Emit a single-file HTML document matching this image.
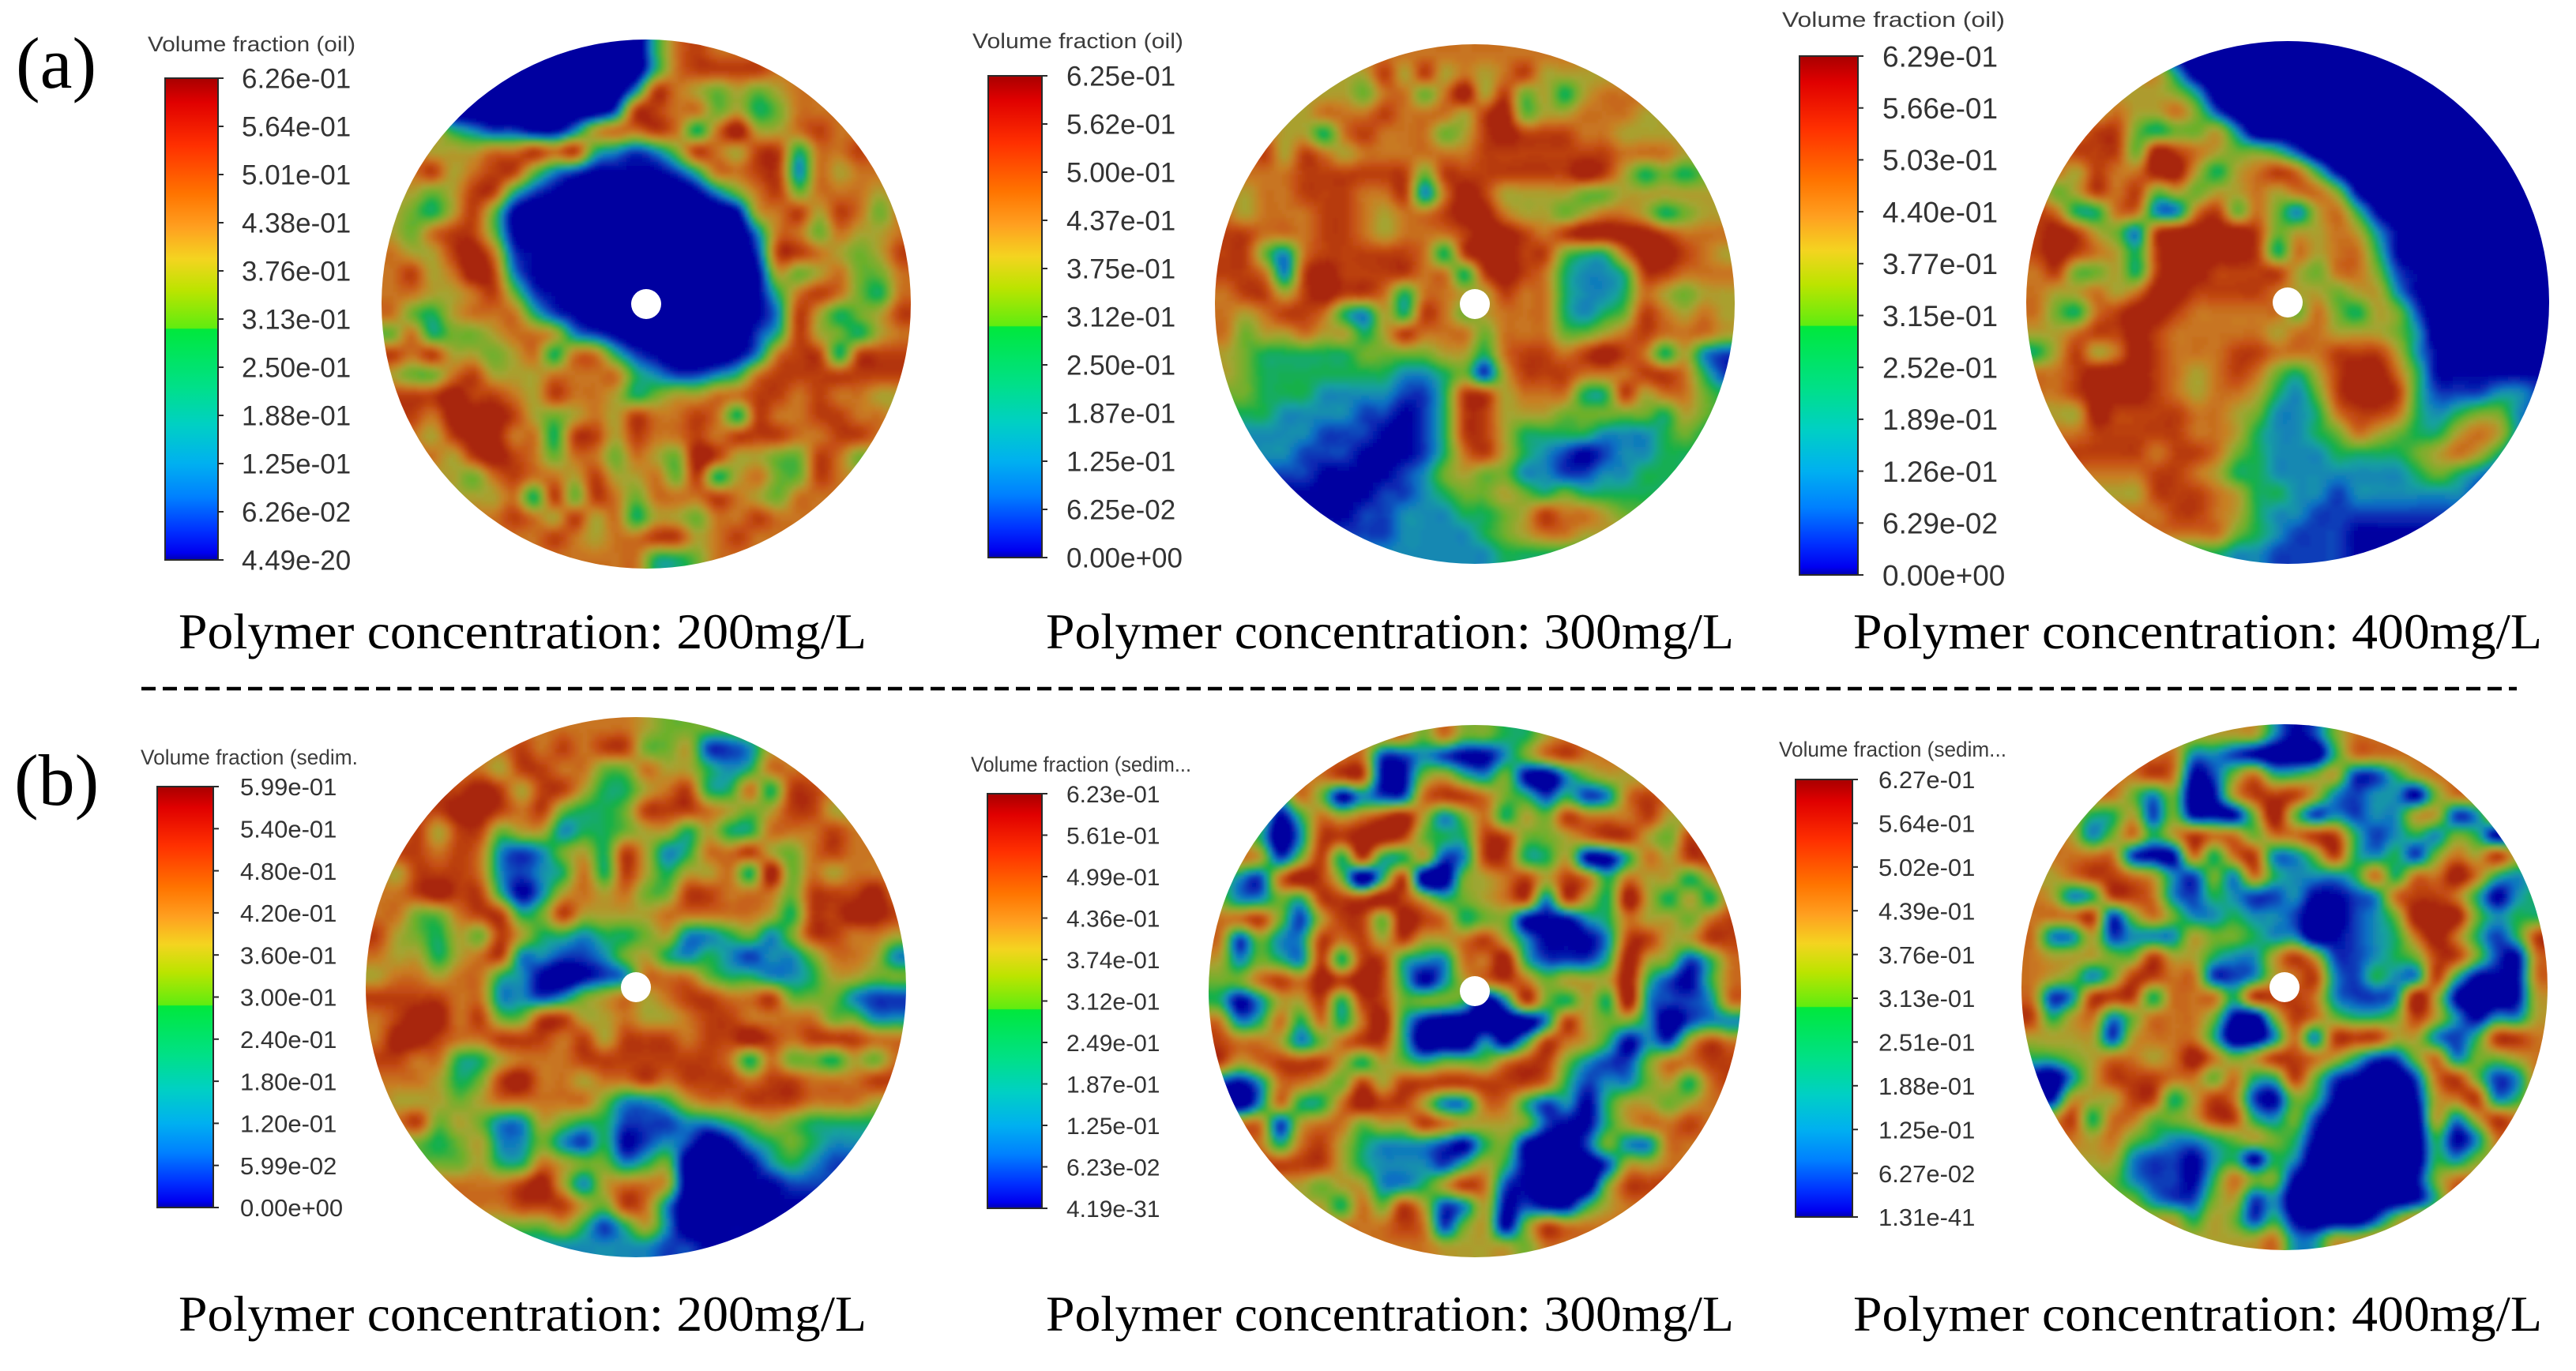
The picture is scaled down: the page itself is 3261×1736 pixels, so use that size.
<!DOCTYPE html>
<html lang="en">
<head>
<meta charset="utf-8">
<title>Volume fraction contours</title>
<style>
html,body{margin:0;padding:0;background:#fff;width:3261px;height:1736px;overflow:hidden}
svg{display:block}
.cap{font-family:"Liberation Serif",serif;font-size:64px;fill:#000}
.tag{font-family:"Liberation Serif",serif;font-size:92px;fill:#000}
.ttl{font-family:"Liberation Sans",sans-serif;font-size:27px;fill:#3c3c3c}
.tick{font-family:"Liberation Sans",sans-serif;fill:#333}
</style>
</head>
<body>
<svg id="figure" xmlns="http://www.w3.org/2000/svg" width="3261" height="1736" viewBox="0 0 3261 1736">
<defs>
<linearGradient id="barGrad" x1="0" y1="0" x2="0" y2="1">
<stop offset="0" stop-color="#a80000"/><stop offset=".05" stop-color="#e00000"/><stop offset=".14" stop-color="#ff3000"/>
<stop offset=".24" stop-color="#ff7400"/><stop offset=".31" stop-color="#ffa020"/><stop offset=".375" stop-color="#f4d420"/>
<stop offset=".44" stop-color="#bce400"/><stop offset=".519" stop-color="#60ec10"/><stop offset=".521" stop-color="#00e83c"/>
<stop offset=".64" stop-color="#00e088"/><stop offset=".72" stop-color="#00d0c4"/><stop offset=".8" stop-color="#00b0f0"/>
<stop offset=".87" stop-color="#0080ff"/><stop offset=".94" stop-color="#0030ff"/><stop offset=".985" stop-color="#0000f0"/><stop offset="1" stop-color="#0000b0"/>
</linearGradient>
<filter id="soft" x="-5%" y="-5%" width="110%" height="110%"><feGaussianBlur stdDeviation="2"/></filter>
</defs>

<text class="tag" x="20" y="111">(a)</text>
<text class="tag" x="18" y="1019">(b)</text>

<text class="ttl" x="187" y="65" textLength="263" lengthAdjust="spacingAndGlyphs">Volume fraction (oil)</text>
<text class="ttl" x="1231" y="61" textLength="267" lengthAdjust="spacingAndGlyphs">Volume fraction (oil)</text>
<text class="ttl" x="2256" y="34" textLength="282" lengthAdjust="spacingAndGlyphs">Volume fraction (oil)</text>
<text class="ttl" x="178" y="968" textLength="275" lengthAdjust="spacingAndGlyphs">Volume fraction (sedim.</text>
<text class="ttl" x="1229" y="977" textLength="279" lengthAdjust="spacingAndGlyphs">Volume fraction (sedim...</text>
<text class="ttl" x="2252" y="958" textLength="288" lengthAdjust="spacingAndGlyphs">Volume fraction (sedim...</text>

<text class="cap" x="226" y="821" textLength="871" lengthAdjust="spacingAndGlyphs">Polymer concentration: 200mg/L</text>
<text class="cap" x="1324" y="821" textLength="871" lengthAdjust="spacingAndGlyphs">Polymer concentration: 300mg/L</text>
<text class="cap" x="2346" y="821" textLength="872" lengthAdjust="spacingAndGlyphs">Polymer concentration: 400mg/L</text>
<text class="cap" x="226" y="1685" textLength="871" lengthAdjust="spacingAndGlyphs">Polymer concentration: 200mg/L</text>
<text class="cap" x="1324" y="1685" textLength="871" lengthAdjust="spacingAndGlyphs">Polymer concentration: 300mg/L</text>
<text class="cap" x="2346" y="1685" textLength="872" lengthAdjust="spacingAndGlyphs">Polymer concentration: 400mg/L</text>

<line x1="179" y1="872" x2="3186" y2="872" stroke="#000" stroke-width="4.5" stroke-dasharray="18 9"/>
</svg>

<script>
// Field values: each digit is a contour level,
// 0 = lowest volume fraction (deep blue) ... 9 = highest (dark red).
const oil200Rows = [
"00000000000004787777777777","00000000000004788887777777","00000000000038765656777777","00000000000288775645777777",
"66643221136778747966787777","77666778784323587688477877","77867885321111247788376777","66568842100000013578577767",
"65468510000000000167868757","65788510000000000037757667","76689721000000000028876568","78679831000000000016567557",
"77667852100000000014787547","75467774210000000013864568","57455677632100000024865467","87866567477421000137884888",
"65578666777743223478888888","88898876877645667788787766","88799986567687787487788776","77689977488687787888778877",
"77768987577576598665587566","66665787768667584675587666","66666674858757778765777777","77777787686746657787777777",
"77777777876778867877777777","77777777777774457777777777"];
const oil300Rows = [
"77777777777777777777777777","66666666868676786666666666","66666665775796856467776666","66666777877768956677766666",
"66766478777568988877666666","77868767777778888888777666","77778888885888888898645456","76778887783798666655666666",
"76777887677899766567764566","88777887677789987899998777","88537888887489988544799876","88738988887748987433488777",
"78868988747766877433476566","76788743648756777434587676","75667664687775777556787776","65444445555664788789874632",
"65444444433452688877788742","55444333322488677744867754","44433332212488666555554654","33333222112488644443334543",
"33332221112478643212334444","22222111123565533223344444","11111111223455654544444444","11111112233344568776555555",
"22222222233334567766666666","33333333333333444444555555"];
const oil400Rows = [
"00000000000000000000000000","66666663000000000000000000","66666665300000000000000000","66667667520000000000000000",
"77788545563000000000000000","77888598765542000000000000","77687799646787410000000000","75687856566767751000000000",
"87447733785753674100000000","89865389999856676310000000","89876489999847677410000000","78556489988886577521000000",
"76676799888876656631000000","75478998777775754652000000","66788987777767766653000000","46867987778877788863100000",
"77899987678754689974111111","77899987677643589984222332",
"66698888776533478874345532","77788888776433457654467632","88888878875433344445676422","77777788764433333334543222",
"66666688876443323333332222","77777778876433222222222222","77777777775432221111111111","44444444443322221111111111"];
const sed200Rows = [
"77777777777776555566666666","77777778787885562236666666","77777768877557664347777777","88888986886446784474887777",
"88889987854458887656886677","77868856634456646447778777","88878732356486347786578777","76888732347486466749576777",
"77898841367675588777588897","77557884586666777776488998","86546586443445633453588776","76646783322356434323357763",
"67767743101237775443346655","88887733235676788778555322","78997855886676678877775533","79987788878688878898788877",
"88774467778888888747554657","77764589776778788878877788","76665677777533467788877766","77856533654422233456544444",
"55545633532412320134543333","55555644765534500013432222","77777778963677600011222222","77777778886587300011111111","55555555564246300111111111","33333333333333221111111111"];
const sed300Rows = [
"77777777775755446777777777","77777777223211357877777777","77777788115643510356666666","66647513227887542423787777",
"66514767896357465877786687","66403889985448855678865877","77625848446238844611476887","53279850480056786874766468",
"53354888986456783864964647","77852688598745511134766578","72533878686678631113886688","63543848843377942224965247",
"55787989841367875666942147","41366848855540385464932237","73474747941000003865530233","87763578840003148764132687",
"86788864654555788532257788","21377658688888887423356478","20374479886337742314665677","77726775668766652114677877",
"77747864333214510025337777","88888864333246410002667777","66666566334687210005888777","66666647586236121146777777","77777777787256158777777777","77777777777666657777777777"];
const sed400Rows = [
"66666666666631257777777777","77777777332100047777777777","77777787125744562246777777","77777535016888632331577777",
"66644625111595232336623777","77635746877577884234354136","77777211747833584342576867","66788763253743334747797434",
"76348873243223112378874134","77782575334332002359995344","73362333655433012347974248","76665586643368622345885217",
"76535887722367832433841117","72388847774888732239610016","84673577751058754458631336","66662677740037388866324887",
"44567767975688764225735567","10368887757448521002785237","21666884687215410001678347","66847755688435200000636877",
"77767543345654100000413777","66666322134143000000435666","55555322147551000001577777","55555532256230000001488777","66666666465241000257777777","66666666666673366777777777"];

const oil200Ticks = ["6.26e-01","5.64e-01","5.01e-01","4.38e-01","3.76e-01","3.13e-01","2.50e-01","1.88e-01","1.25e-01","6.26e-02","4.49e-20"];
const oil300Ticks = ["6.25e-01","5.62e-01","5.00e-01","4.37e-01","3.75e-01","3.12e-01","2.50e-01","1.87e-01","1.25e-01","6.25e-02","0.00e+00"];
const oil400Ticks = ["6.29e-01","5.66e-01","5.03e-01","4.40e-01","3.77e-01","3.15e-01","2.52e-01","1.89e-01","1.26e-01","6.29e-02","0.00e+00"];
const sed200Ticks = ["5.99e-01","5.40e-01","4.80e-01","4.20e-01","3.60e-01","3.00e-01","2.40e-01","1.80e-01","1.20e-01","5.99e-02","0.00e+00"];
const sed300Ticks = ["6.23e-01","5.61e-01","4.99e-01","4.36e-01","3.74e-01","3.12e-01","2.49e-01","1.87e-01","1.25e-01","6.23e-02","4.19e-31"];
const sed400Ticks = ["6.27e-01","5.64e-01","5.02e-01","4.39e-01","3.76e-01","3.13e-01","2.51e-01","1.88e-01","1.25e-01","6.27e-02","1.31e-41"];

const levelColors = ["#0000a0","#0a2cb4","#1070c4","#14a0a0","#12b048","#6cb02c","#a4a430","#c88024","#c65014","#a82608"];

const NS = "http://www.w3.org/2000/svg";
const fig = document.getElementById("figure");

function hexRgb(h){return [parseInt(h.substr(1,2),16),parseInt(h.substr(3,2),16),parseInt(h.substr(5,2),16)];}
const levelRgb = levelColors.map(hexRgb);
function colorAt(v){
  const t = Math.max(0,Math.min(levelRgb.length-1,v));
  const i = Math.min(levelRgb.length-2,Math.floor(t));
  const f = t-i;
  const c = levelRgb[i].map(function(a,k){return Math.round(a+(levelRgb[i+1][k]-a)*f);});
  return "rgb("+c[0]+","+c[1]+","+c[2]+")";
}
function cr(a,b,c,d,t){return b+0.5*t*(c-a+t*(2*a-5*b+4*c-d+t*(3*(b-c)+d-a)));}
function sampleField(rows,u,w){
  const n = rows.length;
  const x = u*n-0.5, y = w*n-0.5;
  const xi = Math.floor(x), yi = Math.floor(y);
  const fx = x-xi, fy = y-yi;
  function at(cx,cy){
    const row = rows[Math.max(0,Math.min(n-1,cy))];
    return +row[Math.max(0,Math.min(row.length-1,cx))];
  }
  const col = [];
  for(let k=-1;k<3;k++){
    col.push(cr(at(xi-1,yi+k),at(xi,yi+k),at(xi+1,yi+k),at(xi+2,yi+k),fx));
  }
  return cr(col[0],col[1],col[2],col[3],fy);
}
// Interpolation flattens narrow peaks; steepen around the green contour to restore them.
function sharpen(v){
  return v<4.5 ? 4.5-(4.5-v)*1.3 : 4.5+(v-4.5)*1.12;
}

let clipCount = 0;
function drawField(rows,cx,cy,r,name){
  clipCount++;
  const clip = document.createElementNS(NS,"clipPath");
  clip.setAttribute("id","disc"+clipCount);
  const cc = document.createElementNS(NS,"circle");
  cc.setAttribute("cx",cx);cc.setAttribute("cy",cy);cc.setAttribute("r",r);
  clip.appendChild(cc);
  fig.querySelector("defs").appendChild(clip);

  const outer = document.createElementNS(NS,"g");
  outer.setAttribute("clip-path","url(#disc"+clipCount+")");
  
  
  const inner = document.createElementNS(NS,"g");
  inner.setAttribute("filter","url(#soft)");
  inner.setAttribute("shape-rendering","crispEdges");

  const cell = 5, d = 2*r, count = Math.ceil(d/cell)+6;
  for(let j=0;j<count;j++){
    const py = cy-r-3*cell+j*cell;
    let runStart = 0, runKey = null;
    for(let i=0;i<=count;i++){
      let key = null;
      if(i<count){
        const px = cx-r-3*cell+i*cell;
        const v = sharpen(sampleField(rows,(px+cell/2-cx+r)/d,(py+cell/2-cy+r)/d));
        key = Math.round(Math.max(0,Math.min(9,v))*8)/8;
      }
      if(key!==runKey){
        if(runKey!==null){
          const rect = document.createElementNS(NS,"rect");
          rect.setAttribute("x",cx-r-3*cell+runStart*cell);
          rect.setAttribute("y",py);
          rect.setAttribute("width",(i-runStart)*cell);
          rect.setAttribute("height",cell);
          rect.setAttribute("fill",colorAt(runKey));
          
          
          inner.appendChild(rect);
        }
        runStart = i; runKey = key;
      }
    }
  }
  outer.appendChild(inner);
  fig.appendChild(outer);

  const hole = document.createElementNS(NS,"circle");
  hole.setAttribute("cx",cx);hole.setAttribute("cy",cy);hole.setAttribute("r",19);
  hole.setAttribute("fill","#fff");
  
  
  fig.appendChild(hole);
}

function drawBar(ticks,x,y,w,h,labelX,fontSize,name){
  const g = document.createElementNS(NS,"g");
  
  
  const bar = document.createElementNS(NS,"rect");
  bar.setAttribute("x",x);bar.setAttribute("y",y);bar.setAttribute("width",w);bar.setAttribute("height",h);
  bar.setAttribute("fill","url(#barGrad)");
  bar.setAttribute("stroke","#2a2a2a");bar.setAttribute("stroke-width","2");
  
  
  g.appendChild(bar);
  ticks.forEach(function(t,i){
    const ty = y+h*i/(ticks.length-1);
    const mark = document.createElementNS(NS,"line");
    mark.setAttribute("x1",x+w);mark.setAttribute("x2",x+w+7);
    mark.setAttribute("y1",ty);mark.setAttribute("y2",ty);
    mark.setAttribute("stroke","#2a2a2a");mark.setAttribute("stroke-width","2");
    
    
    g.appendChild(mark);
    const label = document.createElementNS(NS,"text");
    label.setAttribute("class","tick");
    label.setAttribute("x",labelX);
    label.setAttribute("y",ty+fontSize*0.36);
    label.setAttribute("font-size",fontSize);
    label.textContent = t;
    
    
    g.appendChild(label);
  });
  fig.appendChild(g);
}

drawField(oil200Rows,818,385,335,"oil-field-200");
drawField(oil300Rows,1867,385,329,"oil-field-300");
drawField(oil400Rows,2896,383,331,"oil-field-400");
drawField(sed200Rows,805,1250,342,"sediment-field-200");
drawField(sed300Rows,1867,1255,337,"sediment-field-300");
drawField(sed400Rows,2892,1250,333,"sediment-field-400");

drawBar(oil200Ticks,209,99,67,610,306,35,"colorbar-oil-200");
drawBar(oil300Ticks,1251,96,68,610,1350,35,"colorbar-oil-300");
drawBar(oil400Ticks,2278,71,74,657,2383,37,"colorbar-oil-400");
drawBar(sed200Ticks,199,996,71,533,304,31,"colorbar-sediment-200");
drawBar(sed300Ticks,1250,1005,69,525,1350,30,"colorbar-sediment-300");
drawBar(sed400Ticks,2273,987,72,554,2378,31,"colorbar-sediment-400");
</script>
</body>
</html>
